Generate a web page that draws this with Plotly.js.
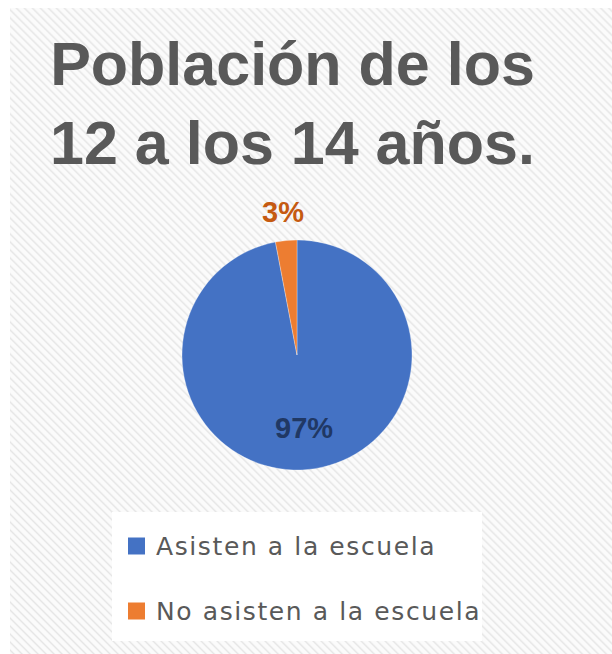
<!DOCTYPE html>
<html>
<head>
<meta charset="utf-8">
<script src="https://cdn.plot.ly/plotly-3.0.1.min.js"></script>
<style>
  html, body { margin: 0; padding: 0; background: #ffffff; }
  #wrap { position: relative; width: 612px; height: 654px; overflow: hidden; }
  #bg { position: absolute; left: 10px; top: 8px; right: 0; bottom: 0;
        background: repeating-linear-gradient(45deg, #fbfbfb 0px, #fbfbfb 1.3px, #e6e6e6 2.8px, #fbfbfb 4.3px, #fbfbfb 5.66px); }
  #chart { position: absolute; left: 0; top: 0; width: 612px; height: 654px; }
</style>
</head>
<body>
<div id="wrap"><div id="bg"></div><div id="chart"></div></div>
<script>
const titleLines = ['Población de los', '12 a los 14 años.'];
const labels = ['Asisten a la escuela', 'No asisten a la escuela'];
const values = [97, 3];
const colors = ['#4472C4', '#ED7D31'];
const textColors = ['#203864', '#C55A11'];
const labelDistance = [0.64, 1.25];   // label distance from centre, in radii

const W = 612, H = 654;
const px = x => x / W;
const py = y => 1 - y / H;

// pie placement (pixels)
const cx = 297, cy = 355, r = 115;

const trace = {
  type: 'pie',
  labels: labels,
  values: values,
  sort: false,
  direction: 'clockwise',
  rotation: 0,
  marker: { colors: colors, line: { color: 'rgba(255,255,255,0.6)', width: 0.5 } },
  textinfo: 'none',
  domain: { x: [px(cx - r), px(cx + r)], y: [py(cy + r), py(cy - r)] },
  showlegend: false,
  automargin: false,
  hoverinfo: 'label+percent'
};

// data labels, placed along each slice's mid angle (computed from values)
const total = values.reduce((a, b) => a + b, 0);
const annotations = [];
let cum = 0;
values.forEach((v, i) => {
  const mid = (cum + v / 2) / total * 2 * Math.PI;   // clockwise from top
  cum += v;
  const d = labelDistance[i] * r;
  annotations.push({
    xref: 'paper', yref: 'paper',
    x: px(cx + d * Math.sin(mid)), y: py(cy - d * Math.cos(mid)),
    xanchor: 'center', yanchor: 'middle', showarrow: false,
    text: Math.round(v / total * 100) + '%',
    font: { family: 'Liberation Sans, Arial, sans-serif', size: 29, color: textColors[i], weight: 'bold' }
  });
});

// custom legend (built from labels/colors)
const legendRows = [546, 611];
const shapes = [{
  type: 'rect', xref: 'paper', yref: 'paper',
  x0: px(112), x1: px(482), y0: py(641), y1: py(512),
  fillcolor: '#ffffff', line: { width: 0 }, layer: 'below'
}];
labels.forEach((lab, i) => {
  const yc = legendRows[i];
  shapes.push({
    type: 'rect', xref: 'paper', yref: 'paper',
    x0: px(128), x1: px(145), y0: py(yc + 8.5), y1: py(yc - 8.5),
    fillcolor: colors[i], line: { width: 0 }
  });
  annotations.push({
    xref: 'paper', yref: 'paper', x: px(154), y: py(yc),
    xanchor: 'left', yanchor: 'middle', showarrow: false,
    text: '<span style="letter-spacing:1.6px">' + lab + '</span>',
    font: { family: 'DejaVu Sans, sans-serif', size: 25, color: '#595959' }
  });
});

const layout = {
  width: W, height: H,
  margin: { l: 0, r: 0, t: 0, b: 0 },
  paper_bgcolor: 'rgba(0,0,0,0)',
  plot_bgcolor: 'rgba(0,0,0,0)',
  showlegend: false,
  title: {
    text: titleLines.join('<br>'),
    x: 292.5 / W, xanchor: 'center', xref: 'container',
    y: 1 - 85 / H, yanchor: 'top', yref: 'container',
    font: { family: 'Liberation Sans, Arial, sans-serif', size: 61, color: '#595959', weight: 'bold' }
  },
  shapes: shapes,
  annotations: annotations
};

Plotly.newPlot('chart', [trace], layout, { displayModeBar: false, staticPlot: true });
</script>
</body>
</html>
